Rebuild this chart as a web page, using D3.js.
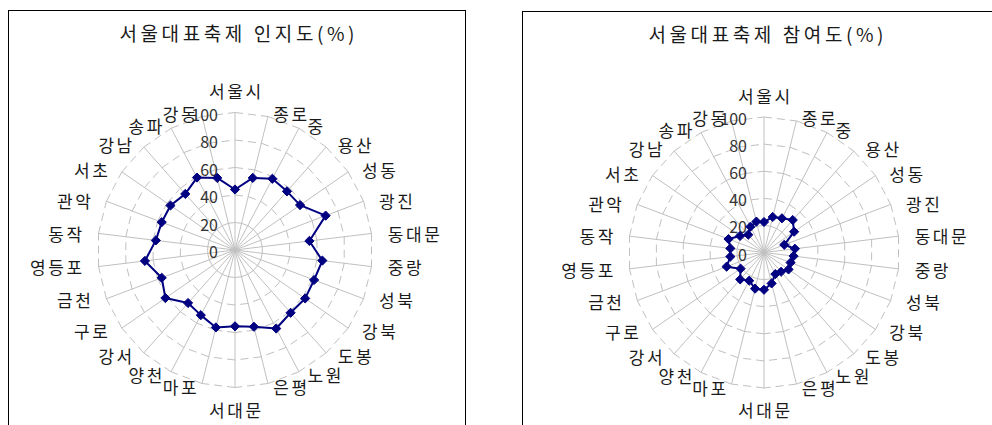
<!DOCTYPE html>
<html>
<head>
<meta charset="utf-8">
<script src="https://cdn.jsdelivr.net/npm/d3@7"></script>
<style>
  html, body { margin: 0; padding: 0; background: #fff; }
  svg { display: block; font-family: "Noto Sans CJK KR", "Noto Sans", sans-serif; }
</style>
</head>
<body>
<svg id="chart" width="992" height="425"></svg>
<script>
// Seoul + 25 districts, clockwise from the top
const districts = ["서울시","종로","중","용산","성동","광진","동대문","중랑","성북","강북","도봉","노원","은평",
                   "서대문","마포","양천","강서","구로","금천","영등포","동작","관악","서초","강남","송파","강동"];

// Festival awareness (%)
const awareness = [44, 54, 58.5, 57, 57.5, 70.5, 54.5, 64, 61.5, 62, 61, 64.5, 57.5,
                   55.5, 58, 53.5, 51.5, 61.5, 57, 66, 58, 57, 57, 54.5, 59.5, 54];

// Festival participation (%)
const participation = [22.5, 27, 28.5, 32, 27, 16, 23, 22, 21, 22, 19, 18, 23.5,
                       27.5, 27.5, 23.5, 26.5, 21, 29.5, 25, 25, 28, 21.5, 17.5, 21.5, 23.5];

const valueTicks = [0, 20, 40, 60, 80, 100];
const titles = ["서울대표축제 인지도(%)", "서울대표축제 참여도(%)"];

const svg = d3.select("#chart");

const panels = [
  { frame: { x: 8.5, y: 10.5, w: 457, h: 440 }, cx: 235, cy: 250, R: 137.5, titleY: 32, title: titles[0], values: awareness },
  { frame: { x: 522.5, y: 11.5, w: 480, h: 440 }, cx: 764, cy: 252.5, R: 135.5, titleY: 33, title: titles[1], values: participation }
];

const n = districts.length;
const step = 2 * Math.PI / n;
const gridColor = "#c0c0c0";
const lineColor = "#000080";
const labelSpacing = 2.6;
const titleSpacing = 3.6;

function drawRadar(p) {
  const g = svg.append("g");

  // chart frame
  g.append("rect")
    .attr("x", p.frame.x).attr("y", p.frame.y)
    .attr("width", p.frame.w).attr("height", p.frame.h)
    .attr("fill", "#fff").attr("stroke", "#000").attr("stroke-width", 1);

  // title
  g.append("text")
    .attr("x", p.cx + 2 + titleSpacing / 2).attr("y", p.titleY)
    .attr("text-anchor", "middle").attr("dominant-baseline", "central")
    .attr("font-size", 19).attr("letter-spacing", titleSpacing).attr("fill", "#1a1a1a")
    .text(p.title);

  const r = d3.scaleLinear().domain([0, 100]).range([0, p.R]);
  const plot = g.append("g").attr("transform", `translate(${p.cx},${p.cy})`);
  const angle = i => i * step;
  const pt = (i, v) => [Math.sin(angle(i)) * r(v), -Math.cos(angle(i)) * r(v)];

  // dashed polygon gridlines, each side drawn on its own
  valueTicks.filter(v => v > 0).forEach(v => {
    d3.range(n).forEach(i => {
      const a = pt(i, v), b = pt((i + 1) % n, v);
      plot.append("line")
        .attr("x1", a[0]).attr("y1", a[1]).attr("x2", b[0]).attr("y2", b[1])
        .attr("stroke", gridColor).attr("stroke-width", 1)
        .attr("stroke-dasharray", "8,5");
    });
  });

  // spokes
  plot.selectAll(".spoke").data(districts).join("line")
    .attr("class", "spoke")
    .attr("x1", 0).attr("y1", 0)
    .attr("x2", (d, i) => pt(i, 100)[0]).attr("y2", (d, i) => pt(i, 100)[1])
    .attr("stroke", gridColor).attr("stroke-width", 1);

  // value axis labels
  plot.selectAll(".tick").data(valueTicks).join("text")
    .attr("class", "tick")
    .attr("x", -17).attr("y", v => -r(v) + 1)
    .attr("text-anchor", "end").attr("dominant-baseline", "central")
    .attr("font-size", 16).attr("fill", "#333")
    .text(d => d);

  // category labels
  plot.selectAll(".cat").data(districts).join("text")
    .attr("class", "cat")
    .each(function (d, i) {
      const s = Math.sin(angle(i)), c = Math.cos(angle(i));
      const t = d3.select(this)
        .attr("font-size", 17).attr("letter-spacing", labelSpacing).attr("fill", "#1a1a1a")
        .attr("dominant-baseline", "central");
      if (Math.abs(s) < 1e-6) {
        t.attr("text-anchor", "middle").attr("x", labelSpacing / 2).attr("y", -c * p.R * 1.16);
      } else if (s > 0) {
        t.attr("text-anchor", "start").attr("x", s * p.R * 1.105 + 2).attr("y", -c * p.R * 1.025);
      } else {
        t.attr("text-anchor", "end").attr("x", s * p.R * 1.105 - 2 + labelSpacing).attr("y", -c * p.R * 1.025);
      }
    })
    .text(d => d);

  // series line
  const radial = d3.lineRadial()
    .angle((d, i) => angle(i))
    .radius(d => r(d))
    .curve(d3.curveLinearClosed);
  plot.append("path")
    .attr("d", radial(p.values))
    .attr("fill", "none").attr("stroke", lineColor).attr("stroke-width", 2)
    .attr("stroke-linejoin", "round");

  // diamond markers
  const diamond = "M0,-4.6L4.6,0L0,4.6L-4.6,0Z";
  plot.selectAll(".mark").data(p.values).join("path")
    .attr("class", "mark")
    .attr("transform", (d, i) => `translate(${pt(i, d)[0]},${pt(i, d)[1]})`)
    .attr("d", diamond)
    .attr("fill", lineColor).attr("stroke", lineColor).attr("stroke-width", 1);
}

panels.forEach(drawRadar);
</script>
</body>
</html>
